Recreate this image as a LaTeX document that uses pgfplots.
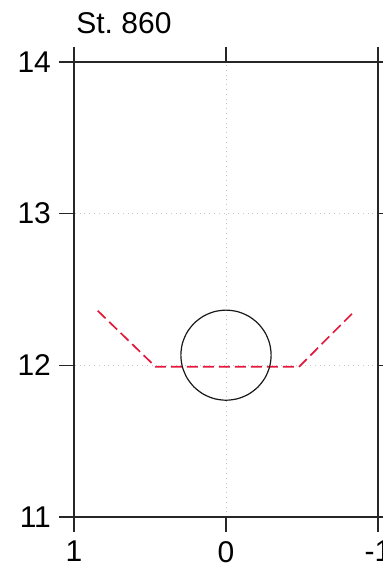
\documentclass[border=0pt]{standalone}
\usepackage{fontspec}
\setmainfont{Liberation Sans}
\usepackage{pgfplots}
\pgfplotsset{compat=1.18}
\definecolor{redline}{RGB}{226,24,60}
\begin{document}
\begin{tikzpicture}
\begin{axis}[
  name=ax,
  scale only axis,
  width=152pt, height=227.5pt,
  x dir=reverse,
  xmin=-1, xmax=1, ymin=11, ymax=14,
  xtick={-1,0,1}, ytick={11,12,13,14},
  tick align=outside,
  xtick pos=both, ytick pos=both,
  major tick length=7.5pt,
  every tick/.style={black!85, line width=0.65pt},
  axis line style={black!85, line width=0.65pt},
  grid=major,
  major grid style={gray!45, dotted, line width=0.4pt},
  font=\fontsize{15}{17}\selectfont,
  /pgf/number format/assume math mode=true,
  xticklabel style={yshift=-1pt},
  yticklabel style={xshift=-0.5pt},
  title={St.\ 860},
  title style={anchor=base west, at={(0,1)}, xshift=1pt, yshift=8.4pt, font=\fontsize{15}{17}\selectfont, inner sep=0pt},
  clip=false,
]
\addplot[redline, dash pattern=on 5.5pt off 2.5pt, line width=0.85pt] coordinates {
  (0.844,12.36) (0.463,11.99) (-0.48,11.99) (-0.849,12.36)
};
\addplot[black!90, line width=0.6pt, smooth cycle] coordinates {
(0.297,12.067) (0.2869,12.144) (0.2572,12.2155) (0.2100,12.277) (0.1485,12.3242) (0.0769,12.3539)
(0,12.364) (-0.0769,12.3539) (-0.1485,12.3242) (-0.2100,12.277) (-0.2572,12.2155) (-0.2869,12.1439)
(-0.297,12.067) (-0.2869,11.9901) (-0.2572,11.9185) (-0.2100,11.857) (-0.1485,11.8098) (-0.0769,11.7801)
(0,11.770) (0.0769,11.7801) (0.1485,11.8098) (0.2100,11.857) (0.2572,11.9185) (0.2869,11.9901)
};
\end{axis}
\pgfresetboundingbox
\path ([shift={(-37pt,-29.5pt)}]ax.south west) rectangle ([shift={(2pt,31pt)}]ax.north east);
\end{tikzpicture}
\end{document}
